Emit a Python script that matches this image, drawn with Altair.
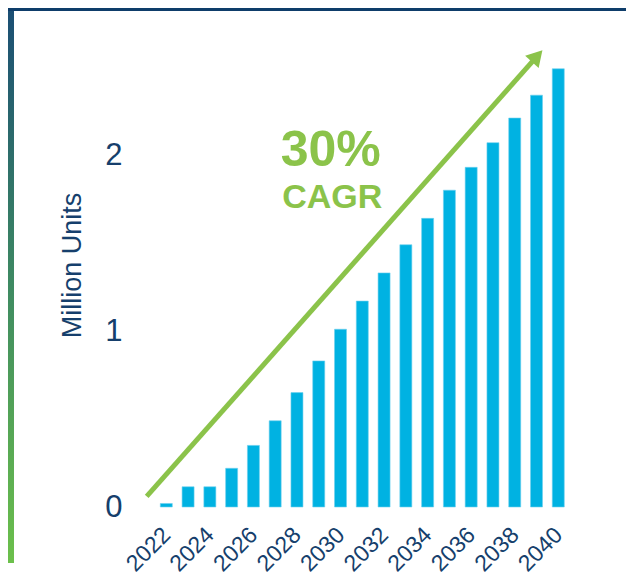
import altair as alt
import pandas as pd

# ---- data ----
years = list(range(2022, 2041))
units = [0.02, 0.115, 0.115, 0.22, 0.35, 0.49, 0.65, 0.83, 1.01, 1.17,
         1.33, 1.49, 1.64, 1.80, 1.93, 2.07, 2.21, 2.34, 2.49]
tick_years = list(range(2022, 2041, 2))
y_ticks = [0, 1, 2]

# CAGR arrow annotation (data coordinates)
arrow_years = [2021.1, 2039.03]
arrow_values = [0.06, 2.562]
label_texts = ["30%", "CAGR"]
label_years = [2029.55, 2029.62]
label_values = [1.935, 1.70]

DARK = "#163F6C"
CYAN = "#00B2E2"
GREEN = "#8BC34A"

bars_df = pd.DataFrame({"year": years, "value": units})
arrow_df = pd.DataFrame({"year": arrow_years, "value": arrow_values})
head_df = pd.DataFrame({"year": arrow_years[1:], "value": arrow_values[1:]})
lab_df = pd.DataFrame({"year": label_years, "value": label_values, "text": label_texts})

x_enc = alt.X(
    "year:Q",
    scale=alt.Scale(domain=[2020.5625, 2041.227], nice=False, zero=False),
    axis=alt.Axis(values=tick_years, format="d", labelAngle=-45, labelFontSize=23,
                  labelColor=DARK, labelFont="Liberation Sans", ticks=False,
                  domain=False, grid=False, labelPadding=24, labelOverlap=False,
                  labelAlign="right", labelBaseline="middle",
                  labelFlush=False, title=None),
)
y_enc = alt.Y(
    "value:Q",
    scale=alt.Scale(domain=[0, 2.75], nice=False),
    axis=alt.Axis(values=y_ticks, labelFontSize=31, labelColor=DARK,
                  labelFont="Liberation Sans", ticks=False, domain=False, grid=False,
                  labelPadding=8, title="Million Units", titleFontSize=27,
                  titleFont="Liberation Sans", titleFontWeight="normal",
                  titleColor=DARK, titlePadding=18),
)

bars = alt.Chart(bars_df).mark_bar(size=12, color=CYAN, stroke="#6FD0EE",
                                   strokeWidth=0.6).encode(x=x_enc, y=y_enc)

arrow = alt.Chart(arrow_df).mark_line(color=GREEN, strokeWidth=5).encode(x=x_enc, y=y_enc)
head = alt.Chart(head_df).mark_point(shape="triangle-up", angle=42, size=330,
                                     filled=True, opacity=1, color=GREEN).encode(x=x_enc, y=y_enc)

big = alt.Chart(lab_df.iloc[:1]).mark_text(font="Liberation Sans", fontWeight="bold",
                                           fontSize=50, color=GREEN, baseline="alphabetic",
                                           align="center").encode(x=x_enc, y=y_enc, text="text:N")
small = alt.Chart(lab_df.iloc[1:]).mark_text(font="Liberation Sans", fontWeight="bold",
                                             fontSize=34, color=GREEN, baseline="alphabetic",
                                             align="center").encode(x=x_enc, y=y_enc, text="text:N")

grad = alt.LinearGradient(
    gradient="linear",
    stops=[alt.GradientStop(offset=0, color="#1B4E74"),
           alt.GradientStop(offset=0.5, color="#3E8A62"),
           alt.GradientStop(offset=1, color="#6CC04B")],
    x1=0, x2=0, y1=0, y2=1,
)
left_bar = alt.Chart(bars_df).mark_rect(color=grad).encode(
    x=alt.value(-122), x2=alt.value(-116), y=alt.value(-15), y2=alt.value(540))
top_line = alt.Chart(bars_df).mark_rect(color="#0E3D6A").encode(
    x=alt.value(-122), x2=alt.value(496), y=alt.value(-15), y2=alt.value(-12))

chart = alt.layer(left_bar, top_line, bars, arrow, head, big, small).properties(
    width=460, height=484, padding=0, background="white"
).configure_view(stroke=None)

chart.save("out.html", embed_options={"renderer": "svg", "actions": False})
